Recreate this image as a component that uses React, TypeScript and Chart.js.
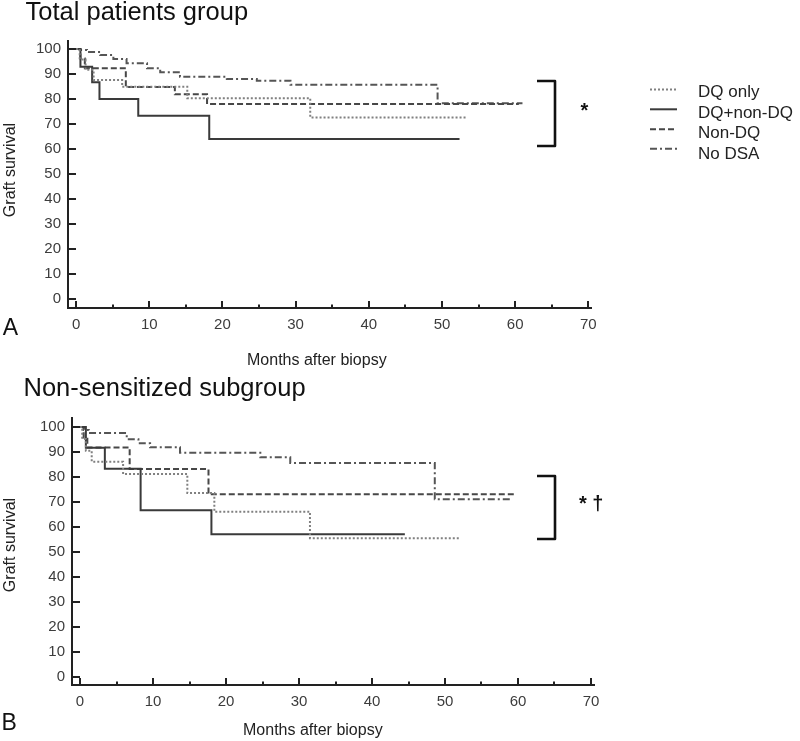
import React, { useEffect, useRef } from 'react';
import { Chart, registerables } from 'chart.js';

Chart.register(...registerables);

// ---------- data ----------
const SERIES = ['DQ only', 'DQ+non-DQ', 'Non-DQ', 'No DSA'];
const X_TICKS = [0, 10, 20, 30, 40, 50, 60, 70];
const X_MINOR = [5, 15, 25, 35, 45, 55, 65];
const Y_TICKS = [0, 10, 20, 30, 40, 50, 60, 70, 80, 90, 100];

// Panel A: Total patients group (months, graft survival %)
const A_DQ_ONLY_T = [0, 0.5, 1.3, 2.4, 6.3, 15.2, 32.0, 53.4];
const A_DQ_ONLY_S = [100, 95.8, 91.7, 87.6, 84.9, 80.3, 72.6, 72.6];
const A_DQ_NONDQ_T = [0, 0.6, 2.2, 3.2, 8.5, 18.2, 52.4];
const A_DQ_NONDQ_S = [100, 92.9, 86.7, 80.0, 73.3, 64.0, 64.0];
const A_NONDQ_T = [0, 0.6, 1.2, 6.8, 13.5, 17.9, 60.5];
const A_NONDQ_S = [100, 96.2, 92.3, 84.8, 81.9, 78.0, 78.0];
const A_NODSA_T = [0, 0.5, 1.5, 3.3, 5.1, 6.9, 9.7, 11.5, 14.2, 20.6, 24.7, 29.3, 49.4, 61.0];
const A_NODSA_S = [100, 99.6, 98.8, 97.6, 96.0, 94.3, 92.3, 90.7, 88.9, 88.0, 87.3, 85.7, 78.3, 78.3];

// Panel B: Non-sensitized subgroup
const B_DQ_ONLY_T = [0, 0.3, 0.8, 1.6, 5.9, 14.7, 18.4, 31.5, 52.1];
const B_DQ_ONLY_S = [100, 95.2, 90.5, 86.1, 81.2, 73.6, 66.1, 55.5, 55.5];
const B_DQ_NONDQ_T = [0, 0.8, 3.4, 8.3, 18.0, 44.5];
const B_DQ_NONDQ_S = [100, 91.7, 83.3, 66.7, 57.1, 57.1];
const B_NONDQ_T = [0, 0.5, 1.0, 6.8, 17.6, 59.6];
const B_NONDQ_S = [100, 95.8, 91.8, 83.2, 73.1, 73.1];
const B_NODSA_T = [0, 0.5, 1.2, 6.4, 8.0, 9.6, 13.7, 24.7, 28.8, 48.6, 58.9];
const B_NODSA_S = [100, 98.8, 97.6, 95.1, 93.5, 91.9, 89.7, 87.9, 85.6, 71.1, 71.1];

// ---------- styles ----------
const FONT = '"Liberation Sans", Arial, sans-serif';
const LINE_STYLES = [
  { color: '#808080', dash: [2, 2], width: 2 },
  { color: '#3a3a3a', dash: [] as number[], width: 2 },
  { color: '#474747', dash: [6, 3], width: 2 },
  { color: '#555555', dash: [7, 3, 2, 3], width: 2 },
];

const pts = (t: number[], s: number[]) => t.map((x, i) => ({ x, y: s[i] }));

const axesPlugin = {
  id: 'kmAxes',
  afterDatasetsDraw(chart: any) {
    const { ctx, chartArea: a, scales } = chart;
    const x = scales.x, y = scales.y;
    ctx.save();
    ctx.setLineDash([]);
    ctx.strokeStyle = '#222';
    ctx.lineWidth = 2;
    ctx.beginPath();
    ctx.moveTo(a.left, a.top);
    ctx.lineTo(a.left, a.bottom);
    ctx.lineTo(a.right, a.bottom);
    ctx.stroke();
    ctx.beginPath();
    X_TICKS.forEach((v) => {
      const px = Math.round(x.getPixelForValue(v));
      ctx.moveTo(px, a.bottom);
      ctx.lineTo(px, a.bottom - 7);
    });
    X_MINOR.forEach((v) => {
      const px = Math.round(x.getPixelForValue(v));
      ctx.moveTo(px, a.bottom);
      ctx.lineTo(px, a.bottom - 3.5);
    });
    Y_TICKS.forEach((v) => {
      const py = Math.round(y.getPixelForValue(v));
      ctx.moveTo(a.left, py);
      ctx.lineTo(a.left + 8, py);
    });
    ctx.stroke();
    ctx.restore();
  },
};

function makeDecor(bracketTop: number, bracketBottom: number, withLegend: boolean) {
  return {
    id: 'kmDecor',
    afterDraw(chart: any) {
      const ctx = chart.ctx;
      ctx.save();
      ctx.setLineDash([]);
      ctx.strokeStyle = '#111';
      ctx.lineWidth = 2.6;
      ctx.lineJoin = 'round';
      ctx.beginPath();
      ctx.moveTo(537, bracketTop);
      ctx.lineTo(555, bracketTop);
      ctx.lineTo(555, bracketBottom);
      ctx.lineTo(537, bracketBottom);
      ctx.stroke();
      if (withLegend) {
        const ys = [89.5, 109.3, 129.2, 148.8];
        LINE_STYLES.forEach((st, i) => {
          ctx.beginPath();
          ctx.strokeStyle = st.color;
          ctx.lineWidth = st.width;
          ctx.setLineDash(st.dash);
          ctx.moveTo(650, ys[i]);
          ctx.lineTo(677, ys[i]);
          ctx.stroke();
        });
      }
      ctx.restore();
    },
  };
}

function buildChart(
  canvas: HTMLCanvasElement,
  series: { x: number; y: number }[][],
  opts: {
    padTop: number; padRight: number; yWidth: number; xHeight: number;
    xMin: number; xMax: number; yMin: number; yMax: number;
    bracketTop: number; bracketBottom: number; legend: boolean;
  }
) {
  return new Chart(canvas, {
    type: 'line',
    data: {
      datasets: series.map((d, i) => ({
        label: SERIES[i],
        data: d,
        borderColor: LINE_STYLES[i].color,
        borderWidth: LINE_STYLES[i].width,
        borderDash: LINE_STYLES[i].dash,
        stepped: 'before' as const,
        pointRadius: 0,
        fill: false,
      })),
    },
    options: {
      responsive: false,
      animation: false,
      devicePixelRatio: 1,
      layout: { padding: { left: 0, right: opts.padRight, top: opts.padTop, bottom: 0 } },
      plugins: { legend: { display: false }, tooltip: { enabled: false }, title: { display: false } },
      scales: {
        x: {
          type: 'linear',
          min: opts.xMin,
          max: opts.xMax,
          afterBuildTicks: (s: any) => { s.ticks = X_TICKS.map((v) => ({ value: v })); },
          afterFit: (s: any) => { s.height = opts.xHeight; },
          grid: { display: false, drawTicks: false },
          border: { display: false },
          ticks: { padding: 8, color: '#3c3c3c', font: { family: FONT, size: 15 }, maxRotation: 0, autoSkip: false },
        },
        y: {
          type: 'linear',
          min: opts.yMin,
          max: opts.yMax,
          afterBuildTicks: (s: any) => { s.ticks = Y_TICKS.map((v) => ({ value: v })); },
          afterFit: (s: any) => { s.width = opts.yWidth; },
          grid: { display: false, drawTicks: false },
          border: { display: false },
          ticks: { padding: 7, color: '#3c3c3c', font: { family: FONT, size: 15 }, autoSkip: false },
        },
      },
    },
    plugins: [axesPlugin, makeDecor(opts.bracketTop, opts.bracketBottom, opts.legend)],
  } as any);
}

const T = (props: { left: number; top: number; size: number; bold?: boolean; color?: string; children: React.ReactNode }) => (
  <div
    style={{
      position: 'absolute',
      left: props.left,
      top: props.top,
      fontSize: props.size,
      lineHeight: props.size + 'px',
      fontFamily: FONT,
      fontWeight: props.bold ? 'bold' : 'normal',
      color: props.color || '#111',
      whiteSpace: 'nowrap',
    }}
  >
    {props.children}
  </div>
);

const YTitle = (props: { cy: number }) => (
  <div
    style={{
      position: 'absolute',
      left: 9.5 - 60,
      top: props.cy - 9,
      width: 120,
      height: 18,
      lineHeight: '18px',
      fontSize: 16,
      fontFamily: FONT,
      color: '#222',
      textAlign: 'center',
      transform: 'rotate(-90deg)',
      whiteSpace: 'nowrap',
    }}
  >
    Graft survival
  </div>
);

export default function App() {
  const refA = useRef<HTMLCanvasElement>(null);
  const refB = useRef<HTMLCanvasElement>(null);

  useEffect(() => {
    const a = buildChart(
      refA.current!,
      [pts(A_DQ_ONLY_T, A_DQ_ONLY_S), pts(A_DQ_NONDQ_T, A_DQ_NONDQ_S), pts(A_NONDQ_T, A_NONDQ_S), pts(A_NODSA_T, A_NODSA_S)],
      { padTop: 40, padRight: 208, yWidth: 68, xHeight: 62, xMin: -1.1, xMax: 70.5, yMin: -3.6, yMax: 103.6, bracketTop: 81, bracketBottom: 146, legend: true }
    );
    const b = buildChart(
      refB.current!,
      [pts(B_DQ_ONLY_T, B_DQ_ONLY_S), pts(B_DQ_NONDQ_T, B_DQ_NONDQ_S), pts(B_NONDQ_T, B_NONDQ_S), pts(B_NODSA_T, B_NODSA_S)],
      { padTop: 47, padRight: 205, yWidth: 72, xHeight: 56, xMin: -1.1, xMax: 70.55, yMin: -3.2, yMax: 104, bracketTop: 106, bracketBottom: 169, legend: false }
    );
    return () => { a.destroy(); b.destroy(); };
  }, []);

  return (
    <div style={{ position: 'absolute', left: 0, top: 0, width: 800, height: 741, background: '#fff', overflow: 'hidden' }}>
      <canvas ref={refA} width={800} height={370} style={{ position: 'absolute', left: 0, top: 0, width: 800, height: 370 }} />
      <canvas ref={refB} width={800} height={371} style={{ position: 'absolute', left: 0, top: 370, width: 800, height: 371 }} />

      <T left={25.5} top={-1.5} size={25.5}>Total patients group</T>
      <T left={23.5} top={374.5} size={25.5}>Non-sensitized subgroup</T>

      <YTitle cy={170} />
      <YTitle cy={545} />

      <T left={247} top={351.5} size={16} color="#222">Months after biopsy</T>
      <T left={243} top={721.5} size={16} color="#222">Months after biopsy</T>

      <T left={2.7} top={315.5} size={23}>A</T>
      <T left={1.6} top={710.5} size={23}>B</T>

      <T left={580.5} top={100.4} size={20} bold>*</T>
      <T left={579} top={493} size={20} bold>* †</T>

      <T left={698} top={97.3 - 14.4} size={17} color="#222">{SERIES[0]}</T>
      <T left={698} top={118 - 14.4} size={17} color="#222">{SERIES[1]}</T>
      <T left={698} top={138.5 - 14.4} size={17} color="#222">{SERIES[2]}</T>
      <T left={698} top={159 - 14.4} size={17} color="#222">{SERIES[3]}</T>
    </div>
  );
}
